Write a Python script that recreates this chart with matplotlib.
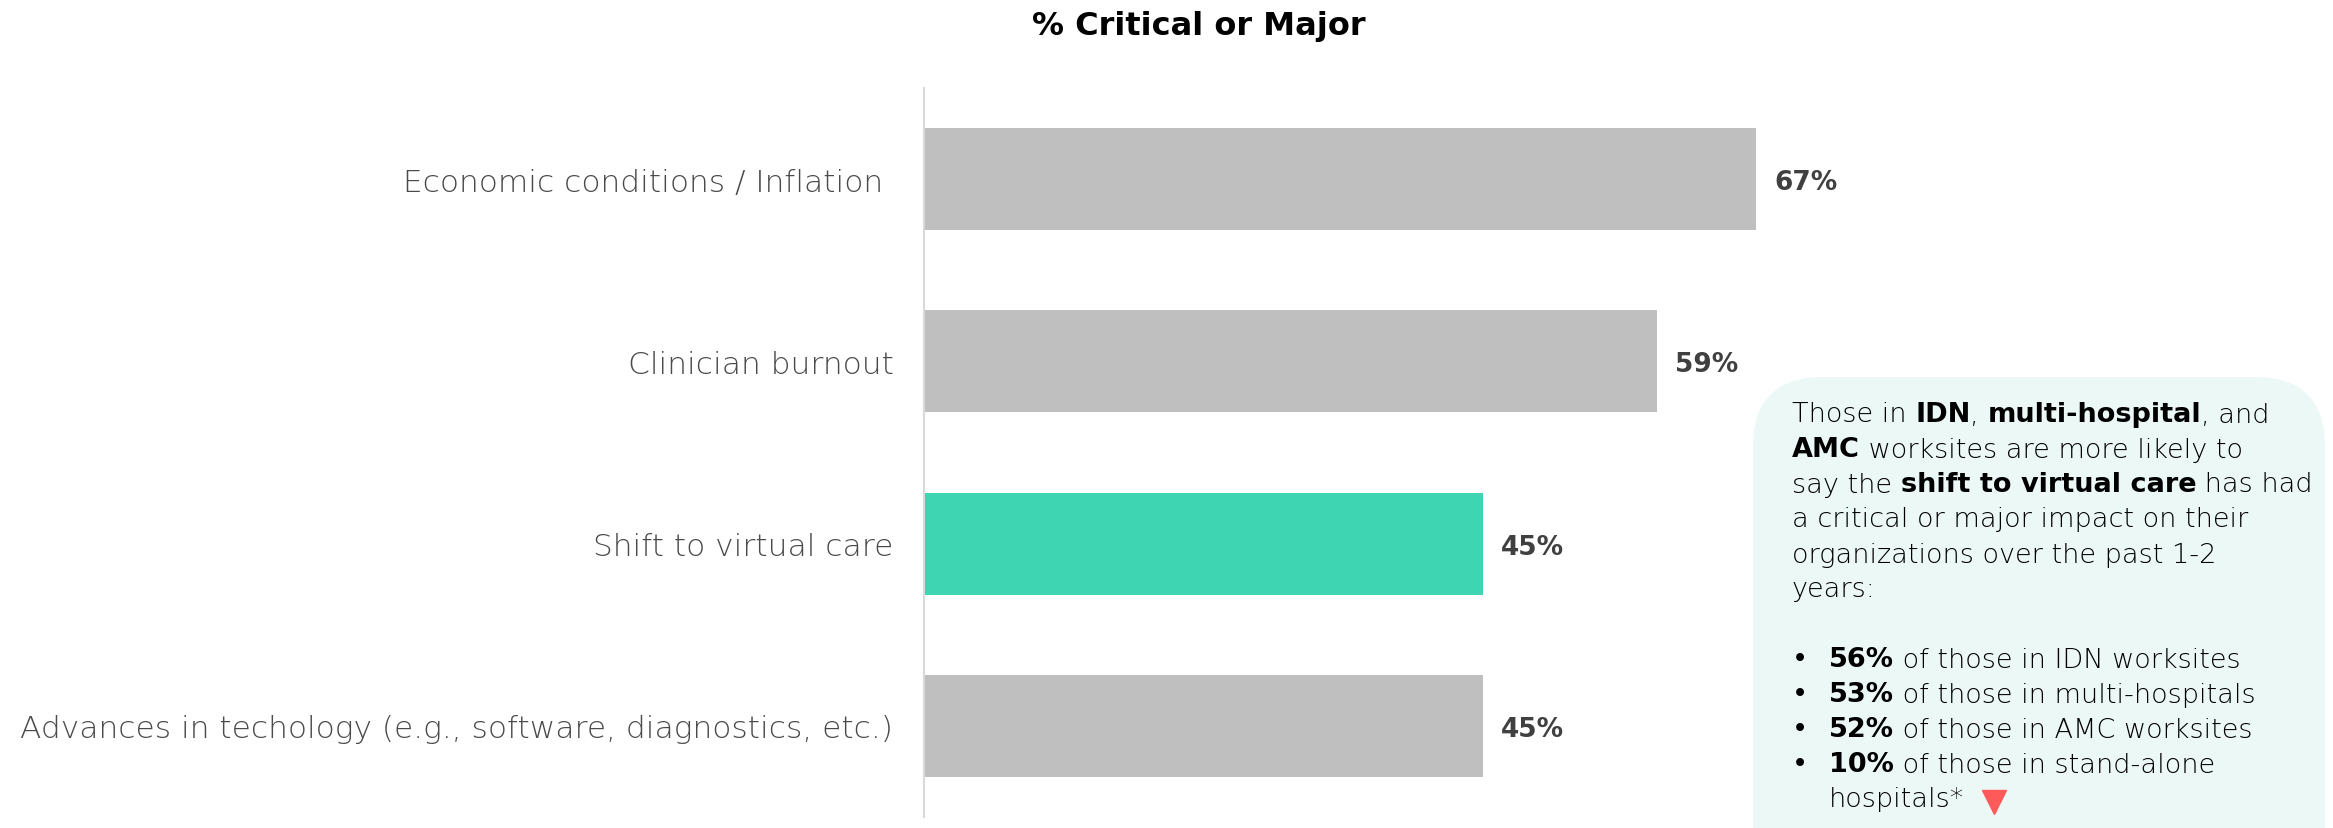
import matplotlib
matplotlib.use("Agg")
import matplotlib.pyplot as plt
from matplotlib.patches import FancyBboxPatch

plt.rcParams["font.family"] = ["DejaVu Sans"]

# data
categories = [
    "Economic conditions / Inflation ",
    "Clinician burnout",
    "Shift to virtual care",
    "Advances in techology (e.g., software, diagnostics, etc.)",
]
values = [67, 59, 45, 45]
highlight = [False, False, True, False]
title = "% Critical or Major"

# callout text: list of lines, each a list of (text, bold) segments
callout_lines = [
    [("Those in ", False), ("IDN", True), (", ", False), ("multi-hospital", True), (", and", False)],
    [("AMC", True), (" worksites are more likely to", False)],
    [("say the ", False), ("shift to virtual care", True), (" has had", False)],
    [("a critical or major impact on their", False)],
    [("organizations over the past 1-2", False)],
    [("years:", False)],
]
bullet_lines = [
    [("56%", True), (" of those in IDN worksites", False)],
    [("53%", True), (" of those in multi-hospitals", False)],
    [("52%", True), (" of those in AMC worksites", False)],
    [("10%", True), (" of those in stand-alone", False)],
    [("hospitals*", False)],
]

GRAY = "#bfbfbf"
TEAL = "#3dd5b2"
W, H = 2333, 829

fig = plt.figure(figsize=(W / 100, H / 100), dpi=100)

ax_left, ax_right = 924 / W, 2286 / W
ax_bottom, ax_top = 1 - 818 / H, 1 - 89 / H
ax = fig.add_axes([ax_left, ax_bottom, ax_right - ax_left, ax_top - ax_bottom])

y = list(range(len(categories)))
colors = [TEAL if h else GRAY for h in highlight]
ax.barh(y, values, height=0.56, color=colors)
ax.set_ylim(len(categories) - 0.5, -0.5)
ax.set_xlim(0, (2286 - 924) / (832 / 67))

for yi, v in zip(y, values):
    ax.annotate(f"{v}%", (v, yi), xytext=(13, 0), textcoords="offset points",
                va="center_baseline", ha="left", fontsize=19, fontweight="bold",
                color="#404040")

ax.set_yticks(y)
ax.set_yticklabels(categories, fontsize=22.5, color="#4a4a4a", fontweight=200)
ax.tick_params(axis="y", length=0, pad=22)
ax.set_xticks([])
for s in ["top", "right", "bottom"]:
    ax.spines[s].set_visible(False)
ax.spines["left"].set_color("#d9d9d9")
ax.spines["left"].set_linewidth(1.5)

fig.text(1199 / W, 1 - 27 / H, title, ha="center", va="center",
         fontsize=23, fontweight="bold", color="black")

# overlay in pixel coordinates for the callout
ov = fig.add_axes([0, 0, 1, 1])
ov.set_xlim(0, W)
ov.set_ylim(H, 0)
ov.axis("off")
ov.add_patch(FancyBboxPatch((1753, 378), 572, 520,
                            boxstyle="round,pad=0,rounding_size=70",
                            fc="#ecf8f6", ec="none"))


def draw_line(x, yc, segments, size=19.5):
    prev = None
    for text, bold in segments:
        weight = "bold" if bold else 200
        if prev is None:
            prev = ov.text(x, yc, text, fontsize=size, fontweight=weight,
                           color="black", va="center", ha="left")
        else:
            prev = ov.annotate(text, xy=(1, 0), xycoords=prev, va="bottom", ha="left",
                               fontsize=size, fontweight=weight, color="black")
    return prev


line_step = 35
y0 = 415
for i, segs in enumerate(callout_lines):
    draw_line(1792, y0 + i * line_step, segs)

yb = y0 + (len(callout_lines) + 1) * line_step
for i, segs in enumerate(bullet_lines):
    yy = yb + i * line_step
    if i < len(bullet_lines) - 1:
        ov.text(1792, yy, "•", fontsize=19.5, va="center", ha="left")
    draw_line(1829, yy, segs)

ov.plot([1994], [yb + (len(bullet_lines) - 1) * line_step + 3], marker="v",
        markersize=17, color="#ff5a5a", linestyle="none")

fig.savefig("out.png", dpi=100)
